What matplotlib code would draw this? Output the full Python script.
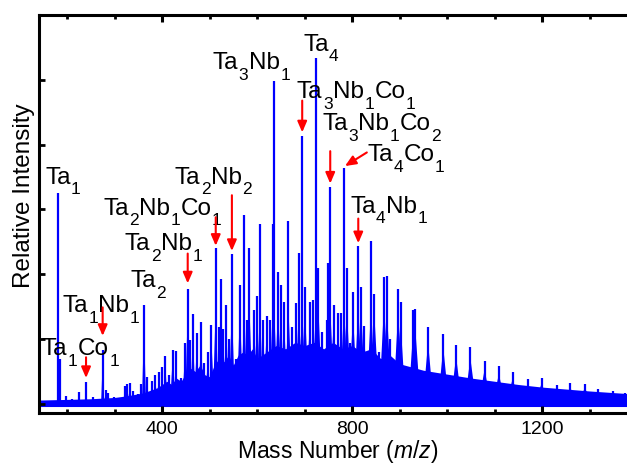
import re
import numpy as np
import matplotlib
matplotlib.use("Agg")
import matplotlib.pyplot as plt

plt.rcParams['font.family'] = ['Liberation Sans', 'DejaVu Sans']
plt.rcParams['mathtext.fontset'] = 'custom'
plt.rcParams['mathtext.rm'] = 'Liberation Sans'
plt.rcParams['mathtext.it'] = 'Liberation Sans:italic'

# peak positions (m/z) and heights (relative units)
peak_mass = [181, 185, 197, 210, 225, 240, 254, 265, 275, 281, 286, 298, 310,
             322, 327, 332, 339, 350, 356, 362, 368, 379, 386, 393, 400, 407,
             414, 422, 429, 440, 448, 454, 459, 465, 473, 482, 489, 496, 504,
             513, 520, 524, 529, 535, 540, 547, 556, 564, 573, 578, 584, 594,
             600, 606, 613, 620, 627, 633, 636, 644, 650, 657, 666, 673, 682,
             688, 695, 701, 711, 718, 724, 729, 736, 747, 750, 754, 761, 771,
             777, 783, 789, 796, 802, 813, 819, 826, 840, 847, 857, 867, 873,
             880, 897, 902, 929, 933, 960, 992, 1019, 1049, 1079, 1109, 1138,
             1170, 1199, 1231, 1259, 1290, 1318, 1349, 1375]
peak_height = [3.25, 0.70, 0.12, 0.08, 0.19, 0.34, 0.10, 0.07, 0.83, 0.21, 0.17,
               0.10, 0.08, 0.27, 0.30, 0.33, 0.20, 0.15, 0.30, 1.52, 0.42, 0.35,
               0.45, 0.50, 0.57, 0.74, 0.45, 0.83, 0.82, 0.40, 0.94, 1.78, 0.98,
               1.38, 1.09, 1.27, 0.63, 0.80, 1.22, 2.41, 1.19, 1.92, 1.15, 1.52,
               1.00, 2.31, 0.70, 1.83, 2.91, 1.30, 2.40, 1.45, 1.67, 2.77, 1.30,
               1.35, 1.30, 2.77, 4.98, 2.03, 1.83, 1.57, 2.82, 1.19, 1.55, 2.33,
               4.14, 1.80, 1.57, 1.60, 5.34, 2.09, 1.11, 1.29, 2.18, 3.34, 1.52,
               1.40, 1.40, 3.64, 2.10, 0.94, 1.73, 2.43, 1.80, 1.20, 2.52, 1.70,
               0.80, 1.96, 1.98, 1.00, 1.78, 1.58, 1.45, 1.46, 1.18, 1.08, 0.91,
               0.88, 0.67, 0.58, 0.49, 0.38, 0.40, 0.29, 0.32, 0.31, 0.23, 0.20,
               0.17]

# dense unresolved floor of the spectrum (top edge)
floor_mass = [141, 200, 250, 300, 330, 360, 390, 400, 410, 420, 430, 440, 450,
              460, 470, 480, 490, 500, 510, 520, 530, 540, 550, 560, 570, 580,
              590, 600, 620, 640, 660, 680, 700, 720, 740, 760, 780, 800, 820,
              840, 860, 880, 900, 950, 1000, 1050, 1100, 1150, 1200, 1250, 1300,
              1400]
floor_top = [0.06, 0.07, 0.08, 0.10, 0.13, 0.17, 0.25, 0.30, 0.35, 0.30, 0.40,
             0.35, 0.47, 0.55, 0.50, 0.60, 0.45, 0.42, 0.60, 0.70, 0.65, 0.75,
             0.60, 0.75, 0.80, 0.75, 0.85, 0.70, 0.80, 0.90, 0.85, 0.95, 0.90,
             0.95, 0.85, 0.95, 0.85, 0.90, 0.80, 0.85, 0.70, 0.75, 0.62, 0.52,
             0.46, 0.40, 0.35, 0.30, 0.26, 0.23, 0.20, 0.15]
floor_bottom = -0.04

# labels: formula, text position, arrow tail, arrow tip (None = no arrow)
labels = [
    ('Ta1', 154, 3.40, None, None),
    ('Ta1Co1', 147, 0.75, (240, 0.72), (240, 0.40)),
    ('Ta1Nb1', 190, 1.42, (275, 1.49), (275, 1.05)),
    ('Ta2', 333, 1.80, None, None),
    ('Ta2Nb1', 322, 2.37, (454, 2.32), (454, 1.86)),
    ('Ta2Nb1Co1', 276, 2.92, (513, 2.88), (513, 2.44)),
    ('Ta2Nb2', 427, 3.40, (547, 3.22), (547, 2.36)),
    ('Ta3Nb1', 507, 5.17, None, None),
    ('Ta4', 697, 5.45, None, None),
    ('Ta3Nb1Co1', 684, 4.72, (695, 4.68), (695, 4.19)),
    ('Ta3Nb1Co2', 737, 4.22, (754, 3.90), (754, 3.40)),
    ('Ta4Co1', 832, 3.75, (831, 3.88), (785, 3.67)),
    ('Ta4Nb1', 796, 2.95, (813, 2.86), (813, 2.48)),
]

MAIN = 17.5   # pt
SUB = 12.5
DROP = 6.3    # pt, subscript shift


def formula(ax, x, y, s):
    # draw element symbols with lowered subscripts, piece by piece
    parts = re.findall(r'([A-Z][a-z]?)(\d*)', s)
    prev = None
    for el, num in parts:
        if prev is None:
            prev = ax.text(x, y, el, fontsize=MAIN, va='baseline', ha='left')
        else:
            prev = ax.annotate(el, xy=(1, 0), xycoords=prev, xytext=(0.3, DROP),
                               textcoords='offset points', fontsize=MAIN,
                               va='bottom', ha='left')
        if num:
            prev = ax.annotate(num, xy=(1, 0), xycoords=prev, xytext=(0.3, -DROP),
                               textcoords='offset points', fontsize=SUB,
                               va='bottom', ha='left')


fig = plt.figure(figsize=(6.27, 4.66), dpi=100)
ax = fig.add_axes([0.0622, 0.1137, 0.954, 0.854])

blue = '#0000ff'
ax.fill_between(floor_mass, floor_bottom, floor_top, color=blue, lw=0)

# cluster bodies (wider for heavier clusters) and sharp tops
for m, h in zip(peak_mass, peak_height):
    w = 0.012 * m
    ax.fill([m - w, m, m + w], [0, min(0.8 * h, 1.5), 0], color=blue, lw=0)
ax.vlines(peak_mass, 0, peak_height, color=blue, lw=1.6)

for s, tx, ty, tail, tip in labels:
    formula(ax, tx, ty, s)
    if tail is not None:
        ax.annotate('', xy=tip, xytext=tail,
                    arrowprops=dict(arrowstyle='-|>,head_length=0.65,head_width=0.28',
                                    color='red', lw=1.5, shrinkA=0, shrinkB=0))

ax.set_xlim(141, 1400)
ax.set_ylim(-0.14, 6)
ax.set_xticks([400, 800, 1200])
ax.set_xticks(np.arange(200, 1400, 100), minor=True)
ax.set_yticks([0, 1, 2, 3, 4, 5])
ax.set_yticklabels([])
ax.tick_params(axis='x', which='major', direction='in', top=True, length=5,
               width=2.2, labelsize=14, pad=6)
ax.tick_params(axis='x', which='minor', direction='in', top=True, length=3,
               width=2)
ax.tick_params(axis='y', which='major', direction='in', length=4, width=2,
               right=False)
for sp in ax.spines.values():
    sp.set_linewidth(2.2)

ax.set_xlabel(r'Mass Number ($\mathit{m/z}$)', fontsize=16.5)
ax.xaxis.set_label_coords(0.499, -0.064)
ax.set_ylabel('Relative Intensity', fontsize=17.5)
ax.yaxis.set_label_coords(-0.006, 0.545)

fig.savefig('out.png', dpi=100)
